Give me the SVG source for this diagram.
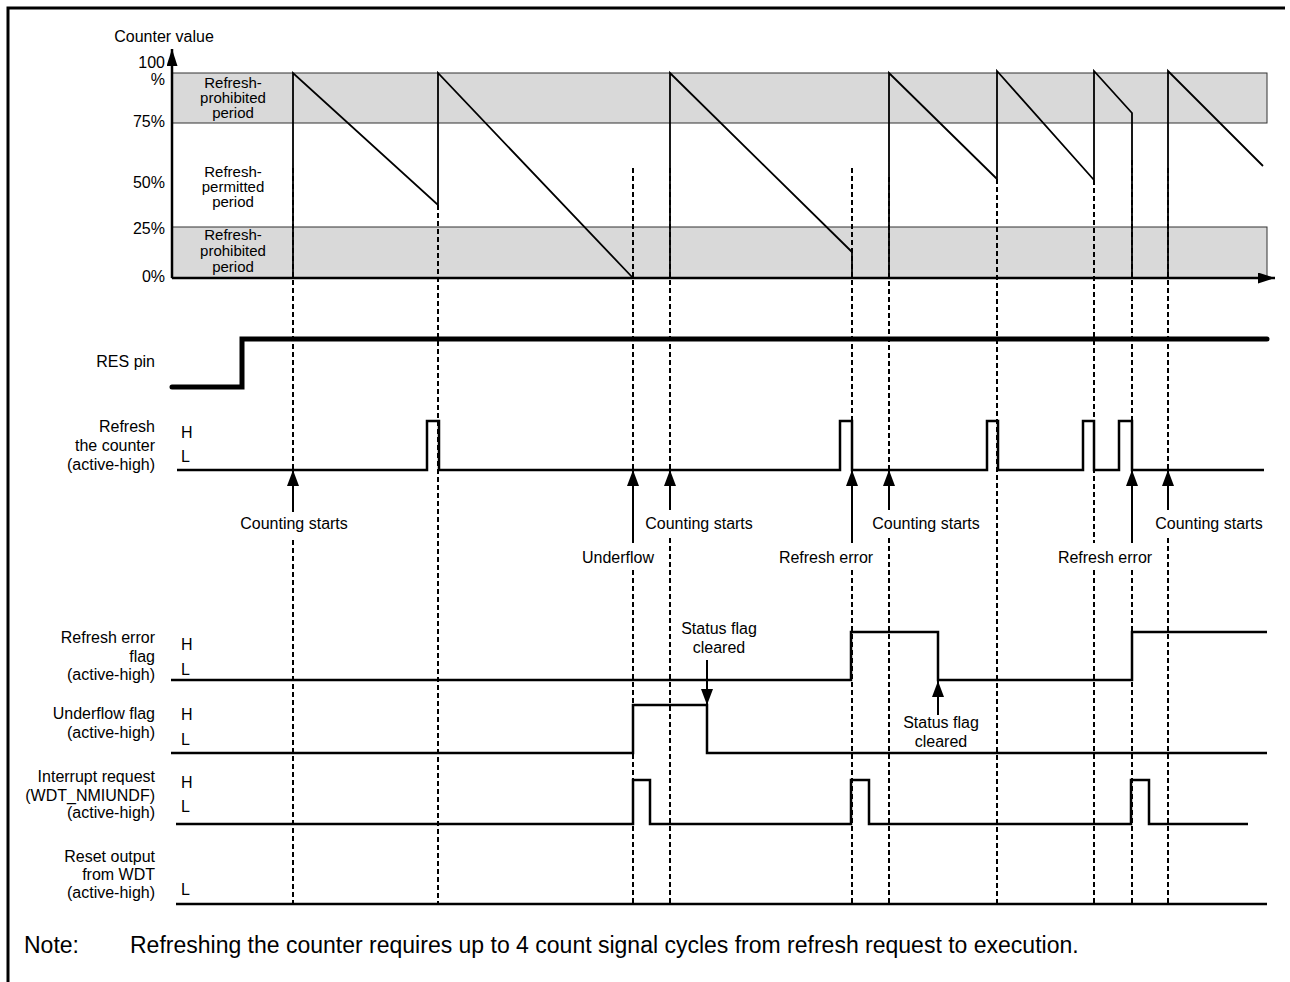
<svg xmlns="http://www.w3.org/2000/svg" width="1290" height="982" viewBox="0 0 1290 982">
<style>
text{font-family:"Liberation Sans",Arial,sans-serif;font-size:16px;fill:#000}
.lbl{text-anchor:end}
.mid{text-anchor:middle}
.band{font-size:15px;text-anchor:middle}
.note{font-size:23px}
.sig{fill:none;stroke:#000;stroke-width:2.5;stroke-linejoin:miter}
.saw{fill:none;stroke:#000;stroke-width:1.8}
.dash{fill:none;stroke:#000;stroke-width:2;stroke-dasharray:5 3}
.arr{fill:none;stroke:#000;stroke-width:2}
.gray{fill:#d9d9d9;stroke:#333;stroke-width:1}
</style>
<defs>
<marker id="ah" viewBox="0 0 16 12" refX="16" refY="6" markerWidth="16" markerHeight="12" orient="auto" markerUnits="userSpaceOnUse"><path d="M0,0 L16,6 L0,12 z" fill="#000"/></marker>
<marker id="axh" viewBox="0 0 17 11" refX="17" refY="5.5" markerWidth="17" markerHeight="11" orient="auto" markerUnits="userSpaceOnUse"><path d="M0,0 L17,5.5 L0,11 z" fill="#000"/></marker>
</defs>
<rect width="1290" height="982" fill="#fff"/>
<g id="frame"><path d="M8,982 L8,8 L1285,8" fill="none" stroke="#000" stroke-width="3"/></g>

<g id="counter-chart">
<rect class="gray" x="172" y="73" width="1095" height="50"/>
<rect class="gray" x="172" y="227" width="1095" height="51"/>
<line x1="172" y1="278" x2="172" y2="49" stroke="#000" stroke-width="2.5" marker-end="url(#axh)"/>
<line x1="172" y1="278" x2="1275" y2="278" stroke="#000" stroke-width="2.5" marker-end="url(#axh)"/>
<text class="mid" x="164" y="42">Counter value</text>
<text class="lbl" x="165" y="68">100</text>
<text class="lbl" x="165" y="85">%</text>
<text class="lbl" x="165" y="127">75%</text>
<text class="lbl" x="165" y="188">50%</text>
<text class="lbl" x="165" y="234">25%</text>
<text class="lbl" x="165" y="282">0%</text>
<text class="band" x="233" y="88">Refresh-</text>
<text class="band" x="233" y="103">prohibited</text>
<text class="band" x="233" y="118">period</text>
<text class="band" x="233" y="177">Refresh-</text>
<text class="band" x="233" y="192">permitted</text>
<text class="band" x="233" y="207">period</text>
<text class="band" x="233" y="240">Refresh-</text>
<text class="band" x="233" y="256">prohibited</text>
<text class="band" x="233" y="272">period</text>
<path class="saw" d="M293,278 L293,73 L438,205 L438,73 L633,278 M670,278 L670,73 L852,252 L852,278 M889,278 L889,73 L997,179 L997,71 L1094,180 L1094,71 L1132,113 L1132,278 M1168,278 L1168,71 L1263,166"/>
</g>

<g id="connectors">
<path class="dash" d="M293,168 L293,470 M293,540 L293,904 M438,205 L438,904 M633,168 L633,470 M633,570 L633,904 M670,168 L670,470 M670,538 L670,904 M852,168 L852,470 M852,570 L852,904 M889,177 L889,470 M889,538 L889,904 M997,179 L997,904 M1094,180 L1094,543 M1094,570 L1094,904 M1132,160 L1132,470 M1132,570 L1132,904 M1168,168 L1168,470 M1168,538 L1168,904"/>
<line class="arr" x1="293" y1="512" x2="293" y2="470" marker-end="url(#ah)"/>
<line class="arr" x1="633" y1="543" x2="633" y2="470" marker-end="url(#ah)"/>
<line class="arr" x1="670" y1="510" x2="670" y2="470" marker-end="url(#ah)"/>
<line class="arr" x1="852" y1="543" x2="852" y2="470" marker-end="url(#ah)"/>
<line class="arr" x1="889" y1="510" x2="889" y2="470" marker-end="url(#ah)"/>
<line class="arr" x1="1132" y1="543" x2="1132" y2="470" marker-end="url(#ah)"/>
<line class="arr" x1="1168" y1="510" x2="1168" y2="470" marker-end="url(#ah)"/>
<line class="arr" x1="707" y1="660" x2="707" y2="705" marker-end="url(#ah)"/>
<line class="arr" x1="938" y1="715" x2="938" y2="681" marker-end="url(#ah)"/>
</g>

<g id="event-labels">
<text class="mid" x="294" y="529">Counting starts</text>
<text class="mid" x="699" y="529">Counting starts</text>
<text class="mid" x="926" y="529">Counting starts</text>
<text class="mid" x="1209" y="529">Counting starts</text>
<text class="mid" x="618" y="563">Underflow</text>
<text class="mid" x="826" y="563">Refresh error</text>
<text class="mid" x="1105" y="563">Refresh error</text>
<text class="mid" x="719" y="634">Status flag</text>
<text class="mid" x="719" y="653">cleared</text>
<text class="mid" x="941" y="728">Status flag</text>
<text class="mid" x="941" y="747">cleared</text>
</g>

<g id="res-pin">
<text class="lbl" x="155" y="367">RES pin</text>
<path d="M172,387 L242,387 L242,339 L1267,339" fill="none" stroke="#000" stroke-width="5" stroke-linecap="round"/>
</g>

<g id="refresh-counter">
<text class="lbl" x="155" y="432">Refresh</text>
<text class="lbl" x="155" y="451">the counter</text>
<text class="lbl" x="155" y="470">(active-high)</text>
<text x="181" y="438">H</text>
<text x="181" y="462">L</text>
<path class="sig" d="M177,470 L427,470 L427,421 L439,421 L439,470 L840,470 L840,421 L852,421 L852,470 L987,470 L987,421 L998,421 L998,470 L1083,470 L1083,421 L1094,421 L1094,470 L1119,470 L1119,421 L1132,421 L1132,470 L1264,470"/>
</g>

<g id="refresh-error-flag">
<text class="lbl" x="155" y="643">Refresh error</text>
<text class="lbl" x="155" y="662">flag</text>
<text class="lbl" x="155" y="680">(active-high)</text>
<text x="181" y="650">H</text>
<text x="181" y="675">L</text>
<path class="sig" d="M171,680 L851,680 L851,632 L938,632 L938,680 L1132,680 L1132,632 L1267,632"/>
</g>

<g id="underflow-flag">
<text class="lbl" x="155" y="719">Underflow flag</text>
<text class="lbl" x="155" y="738">(active-high)</text>
<text x="181" y="720">H</text>
<text x="181" y="745">L</text>
<path class="sig" d="M171,753 L633,753 L633,705 L707,705 L707,753 L1267,753"/>
</g>

<g id="interrupt-request">
<text class="lbl" x="155" y="782">Interrupt request</text>
<text class="lbl" x="155" y="801">(WDT_NMIUNDF)</text>
<text class="lbl" x="155" y="818">(active-high)</text>
<text x="181" y="788">H</text>
<text x="181" y="812">L</text>
<path class="sig" d="M176,824 L633,824 L633,780 L650,780 L650,824 L851,824 L851,780 L869,780 L869,824 L1131,824 L1131,780 L1149,780 L1149,824 L1248,824"/>
</g>

<g id="reset-output">
<text class="lbl" x="155" y="862">Reset output</text>
<text class="lbl" x="155" y="880">from WDT</text>
<text class="lbl" x="155" y="898">(active-high)</text>
<text x="181" y="895">L</text>
<path class="sig" d="M176,904 L1267,904"/>
</g>

<g id="note">
<text class="note" x="24" y="953">Note:</text>
<text class="note" x="130" y="953">Refreshing the counter requires up to 4 count signal cycles from refresh request to execution.</text>
</g>
</svg>
